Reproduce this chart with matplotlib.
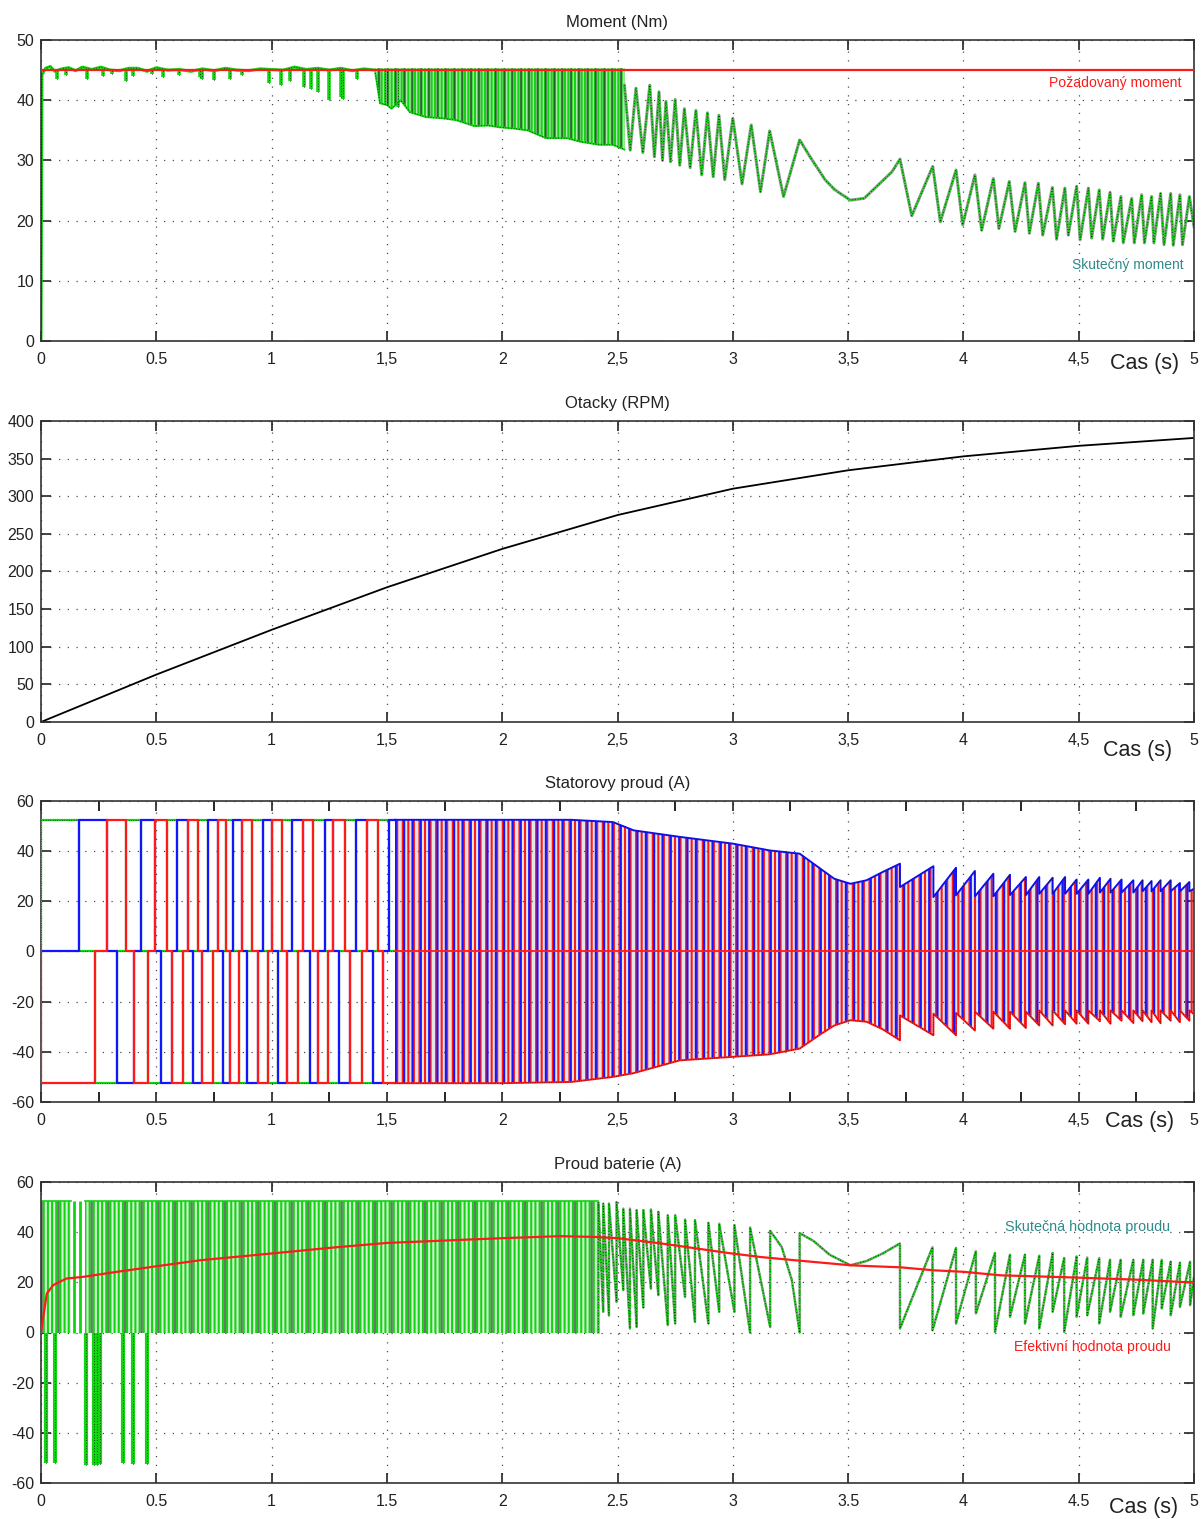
import matplotlib.pyplot as plt
import numpy as np

plt.rcParams['font.family'] = ['Liberation Sans', 'DejaVu Sans']
plt.rcParams['axes.unicode_minus'] = False
plt.rcParams['hatch.linewidth'] = 1.5

# ---------------- Moment (Nm) ----------------
moment_ref_t = [0.0, 5.0]
moment_ref = [45.0, 45.0]

# klidna cast 0 - 1.45 s
moment_klid_t = [0.0, 0.004, 0.02, 0.04, 0.06, 0.09, 0.12, 0.15, 0.18, 0.22, 0.26, 0.3,
                 0.34, 0.38, 0.42, 0.46, 0.5, 0.55, 0.6, 0.65, 0.7, 0.75, 0.8, 0.85, 0.9,
                 0.95, 1.0, 1.05, 1.1, 1.15, 1.2, 1.25, 1.3, 1.35, 1.4, 1.45]
moment_klid = [0.0, 44.2, 45.3, 45.6, 44.8, 45.2, 45.4, 44.9, 45.5, 45.1, 45.5, 45.0,
               44.9, 45.3, 45.3, 44.8, 45.4, 45.0, 45.1, 44.8, 45.2, 44.9, 45.3, 45.0, 44.9,
               45.2, 45.1, 45.0, 45.5, 45.1, 45.3, 45.0, 45.3, 44.9, 45.2, 45.0]
# propady
moment_propad_t = [0.068, 0.11, 0.2, 0.27, 0.31, 0.37, 0.4, 0.48, 0.53, 0.6, 0.69, 0.70,
                   0.75, 0.82, 0.87, 0.99, 1.04, 1.08, 1.14, 1.17, 1.2, 1.25, 1.30, 1.31,
                   1.37, 1.49, 1.5, 1.55]
moment_propad = [43.6, 44.2, 43.6, 44.0, 44.3, 43.2, 44.0, 44.3, 43.8, 44.2, 43.8, 43.5,
                 43.4, 43.6, 44.2, 42.9, 42.6, 43.2, 42.2, 41.8, 41.3, 40.1, 40.6, 40.2,
                 43.6, 39.4, 39.2, 38.8]
# husta oscilace 1.45 - 2.53 s (obalka)
moment_pas_t = [1.45, 1.47, 1.5, 1.52, 1.56, 1.6, 1.67, 1.74, 1.80, 1.88, 1.94, 1.99,
                2.05, 2.11, 2.19, 2.28, 2.34, 2.42, 2.48, 2.53]
moment_pas_min = [44.5, 39.5, 39.2, 38.6, 40.0, 38.0, 37.2, 37.0, 36.7, 35.7, 35.8, 35.5,
                  35.3, 35.0, 33.7, 33.7, 33.1, 32.6, 32.6, 31.8]
moment_pas_max = 45.3
# vrcholy a minima 2.53 - 5 s
moment_max_t = [2.53, 2.58, 2.64, 2.68, 2.71, 2.75, 2.79, 2.84, 2.89, 2.94, 3.0, 3.08,
                3.16, 3.29, 3.725, 3.867, 3.968, 4.05, 4.13, 4.199, 4.267, 4.325, 4.386,
                4.44, 4.491, 4.542, 4.589, 4.636, 4.683, 4.73, 4.773, 4.816, 4.855, 4.899,
                4.939, 4.98]
moment_max = [42.5, 42.0, 42.5, 41.4, 39.8, 40.1, 38.6, 38.3, 37.9, 37.5, 37.0, 35.9,
              34.9, 33.4, 30.2, 29.0, 28.4, 27.6, 27.0, 26.5, 26.3, 26.2, 25.5,
              25.4, 25.7, 25.4, 25.1, 24.7, 24.0, 23.7, 24.3, 24.0, 24.5, 24.5,
              24.3, 24.0]
moment_min_t = [2.555, 2.61, 2.66, 2.695, 2.73, 2.77, 2.815, 2.865, 2.915, 2.965, 3.04,
                3.12, 3.22, 3.335, 3.4, 3.44, 3.47, 3.51, 3.57, 3.63, 3.69, 3.776, 3.90,
                3.997, 4.079, 4.154, 4.224, 4.286, 4.344, 4.404, 4.455, 4.506, 4.556,
                4.604, 4.65, 4.693, 4.741, 4.785, 4.826, 4.87, 4.91, 4.95, 5.0]
moment_min = [31.7, 31.3, 30.6, 30.0, 29.8, 29.2, 28.8, 27.6, 27.3, 26.8, 26.1,
              24.8, 24.0, 30.6, 26.8, 25.2, 24.4, 23.4, 23.7, 25.9, 28.1, 20.8, 19.8,
              19.3, 18.4, 18.7, 18.2, 17.9, 17.6, 16.9, 17.6, 16.8, 17.1,
              16.9, 16.6, 16.3, 16.3, 16.3, 16.3, 16.0, 15.9, 16.0, 19.0]

# ---------------- Otacky (RPM) ----------------
otacky_t = [0, 0.5, 1.0, 1.5, 2.0, 2.5, 3.0, 3.5, 4.0, 4.5, 5.0]
otacky = [0, 63, 122.5, 179, 230, 275, 310, 334.5, 353, 367, 377.5]

# ---------------- Statorovy proud (A) ----------------
stator_amp = 52.5
# poradi stavu komutace (zelena, cervena, modra)
faze_zelena = [1, 0, -1, -1, 0, 1]
faze_cervena = [-1, -1, 0, 1, 1, 0]
faze_modra = [0, 1, 1, 0, -1, -1]
stator_prepnuti_t = [0.165, 0.234, 0.285, 0.331, 0.369, 0.403, 0.432, 0.463, 0.496, 0.519,
                     0.545, 0.569, 0.588, 0.614, 0.639, 0.658, 0.682, 0.700, 0.725, 0.747,
                     0.769, 0.788, 0.804, 0.819, 0.834, 0.860, 0.873, 0.892, 0.917, 0.943,
                     0.964, 0.986, 1.000, 1.029, 1.043, 1.065, 1.087, 1.113, 1.138, 1.166,
                     1.181, 1.203, 1.231, 1.246, 1.267, 1.293, 1.318, 1.340, 1.366, 1.390,
                     1.412, 1.438, 1.463, 1.485, 1.511]
# husta cast - obalka (cas, hodnota pred skokem, po skoku)
stator_pas_t = [1.535, 2.0, 2.3, 2.48, 2.57, 2.77, 3.0, 3.16, 3.29, 3.38, 3.44, 3.51, 3.58,
                3.65, 3.725, 3.87, 3.968, 4.05, 4.13, 4.202, 4.271, 4.329, 4.387, 4.441,
                4.491, 4.542, 4.592, 4.638, 4.686, 4.737, 4.777, 4.816, 4.855, 4.899,
                4.939, 4.98, 5.0]
stator_hor_pred = [52.5, 52.5, 52.5, 51.6, 48.3, 45.7, 43.0, 40.3, 39.0, 33.0, 29.0, 27.0,
                   28.4, 31.7, 35.0, 34.0, 33.4, 32.1, 31.0, 30.6, 29.7, 29.7, 29.4, 29.7,
                   28.7, 28.7, 29.4, 29.0, 28.7, 28.4, 28.4, 28.1, 28.4, 28.4, 27.3, 27.7, 25.0]
stator_hor_po = [52.5, 52.5, 52.5, 51.6, 48.3, 45.7, 43.0, 40.3, 39.0, 33.0, 29.0, 27.0,
                 28.4, 31.7, 25.7, 21.7, 22.4, 22.0, 22.0, 22.5, 22.5, 23.0, 23.0, 23.0,
                 23.0, 23.0, 23.5, 23.5, 23.5, 23.5, 24.0, 24.0, 24.0, 24.0, 24.0, 24.0, 25.0]
stator_dol_pred = [-52.5, -52.5, -52.0, -50.0, -48.5, -43.4, -42.0, -41.0, -38.7, -33.0,
                   -29.5, -27.4, -28.0, -31.0, -35.4, -33.4, -33.4, -31.5, -30.8, -30.8,
                   -30.5, -29.5, -29.5, -29.0, -28.8, -28.8, -27.8, -28.8, -27.6, -28.5,
                   -27.8, -28.2, -28.6, -27.6, -28.2, -27.6, -25.0]
stator_dol_po = [-52.5, -52.5, -52.0, -50.0, -48.5, -43.4, -42.0, -41.0, -38.7, -33.0,
                 -29.5, -27.4, -28.0, -31.0, -25.5, -24.8, -24.5, -24.0, -24.0, -24.0,
                 -24.0, -23.5, -23.5, -23.5, -23.5, -23.5, -23.5, -23.5, -23.5, -23.5,
                 -23.5, -23.5, -23.5, -23.5, -23.5, -23.5, -25.0]

# ---------------- Proud baterie (A) ----------------
bat_ef_t = [0, 0.025, 0.053, 0.11, 0.184, 0.33, 0.5, 0.69, 1.0, 1.27, 1.5, 2.0, 2.25, 2.4,
            2.5, 2.69, 2.98, 3.12, 3.27, 3.51, 3.61, 3.725, 3.87, 4.0, 4.16, 4.49, 4.74, 5.0]
bat_ef = [0, 15.5, 18.9, 21.5, 22.2, 24.2, 26.4, 28.8, 31.5, 33.9, 35.7, 37.6, 38.4, 38.1,
          37.6, 35.5, 31.7, 30.1, 28.8, 26.8, 26.4, 26.0, 24.8, 24.2, 22.8, 21.9, 21.1, 19.9]
# husta cast (useky od-do)
bat_pas_od = [0.0, 0.19]
bat_pas_do = [0.13, 2.417]
bat_pas_max = 52.5
bat_ridke_t = [0.145, 0.17]
bat_zap_t = [0.02, 0.06, 0.195, 0.23, 0.241, 0.256, 0.357, 0.398, 0.458]
bat_zap = [-52, -52, -53, -53, -53, -52.5, -52, -52.5, -52.5]
bat_skok_t = [2.417, 2.438, 2.463, 2.496, 2.525, 2.554, 2.583, 2.612, 2.645, 2.677, 2.718,
              2.75, 2.793, 2.836, 2.894, 2.941, 3.007, 3.075, 3.162, 3.212, 3.256, 3.29,
              3.35, 3.42, 3.51, 3.58, 3.65, 3.725, 3.866, 3.968, 4.054, 4.137, 4.202,
              4.267, 4.329, 4.387, 4.437, 4.491, 4.537, 4.589, 4.636, 4.682, 4.737, 4.78,
              4.821, 4.86, 4.899, 4.939, 4.983, 5.0]
bat_pred = [0, 8.2, 6.8, 12.2, 16.9, 1.6, 2.2, 10, 17.5, 14.9, 2.9, 3.6, 14.2, 4.2, 3.6,
            8.2, 8.2, 0, 2.2, 34.1, 20.9, 0, 36.5, 31, 26.8, 28.5, 31.5, 35.5, 34.0, 33.7,
            32.4, 31.7, 31.0, 31.0, 30.6, 31.7, 29.7, 30.3, 29.9, 29.7, 29.0, 29.0, 29.0,
            29.0, 29.0, 29.0, 28.2, 27.8, 28.2, 22]
bat_po = [52, 51.4, 51.4, 52, 49.4, 49.4, 48.8, 48.8, 49, 48.1, 46.8, 46.8, 45, 44.8, 43.7,
          43.4, 42.8, 41.8, 40.5, 34.1, 20.9, 39.6, 36.5, 31, 26.8, 28.5, 31.5, 1.6, 0.9,
          3.6, 7.6, 0.2, 6.3, 3.6, 1.6, 8.3, 0.2, 6.3, 6.9, 3.6, 8.3, 6.3, 6.9, 7.6, 1.6,
          9.6, 6.9, 10.2, 10.9, 22]

cas_ticks = [0, 0.5, 1, 1.5, 2, 2.5, 3, 3.5, 4, 4.5, 5]
cas_popisky = ['0', '0.5', '1', '1,5', '2', '2,5', '3', '3,5', '4', '4,5', '5']
cas_popisky_4 = ['0', '0.5', '1', '1.5', '2', '2.5', '3', '3.5', '4', '4.5', '5']

zelena = '#12d412'
cervena = '#ff1a1a'
modra = '#1414ff'
seda = '#9a9a9a'
tyrkys = '#2f8a8a'

W, H = 1202, 1519
fig = plt.figure(figsize=(W / 100, H / 100), dpi=100)


def box(top, bottom):
    return [41 / W, 1 - bottom / H, 1153 / W, (bottom - top) / H]


def styl(ax, yticks, popisky, titulek):
    ax.set_xlim(0, 5)
    ax.set_ylim(yticks[0], yticks[-1])
    ax.set_xticks(cas_ticks)
    ax.set_xticklabels(popisky)
    ax.set_yticks(yticks)
    ax.grid(True, which='major', linestyle=(0, (1, 6)), color='0.3', lw=0.9)
    ax.tick_params(direction='in', length=7, width=1.2, top=True, right=True,
                   labelsize=11.5, colors='#222222')
    ax.tick_params(axis='x', pad=8)
    ax.tick_params(axis='y', pad=5)
    for s in ax.spines.values():
        s.set_color('#333333')
        s.set_linewidth(1.2)
    ax.set_title(titulek, fontsize=12, pad=9, color='#222222')


def tecky(ax, x, y, lw=0.7):
    ax.plot(x, y, color='black', lw=lw, linestyle=(0, (0.6, 2.2)), zorder=3)


def skoky(t, pred, po):
    return np.repeat(t, 2), np.column_stack([pred, po]).ravel()


ax1 = fig.add_axes(box(40, 341))
ax2 = fig.add_axes(box(421, 722))
ax3 = fig.add_axes(box(801, 1102))
ax4 = fig.add_axes(box(1182, 1483))

# ---- 1: moment
styl(ax1, [0, 10, 20, 30, 40, 50], cas_popisky, 'Moment (Nm)')
ax1.plot(moment_klid_t, moment_klid, color=zelena, lw=2.2, zorder=2)
tecky(ax1, moment_klid_t, moment_klid)
ax1.vlines(moment_propad_t, moment_propad, 45, colors=zelena, lw=2.6, zorder=2)
ax1.vlines(moment_propad_t, moment_propad, 45, colors='black', lw=0.7,
           linestyles=(0, (0.6, 2.2)), zorder=3)
ax1.fill_between(moment_pas_t, moment_pas_min, moment_pas_max, facecolor='#b8e8b8',
                 edgecolor=zelena, hatch='|||||', lw=0, zorder=2)
ax1.fill_between(moment_pas_t, moment_pas_min, moment_pas_max, facecolor='none',
                 edgecolor='#222222', hatch='||', lw=0, zorder=2, alpha=0.6)
ax1.plot(moment_pas_t, moment_pas_min, color=zelena, lw=1.4, zorder=2)
tecky(ax1, moment_pas_t, moment_pas_min)
osc_t = np.array(moment_max_t + moment_min_t)
osc = np.array(moment_max + moment_min)
poradi = np.argsort(osc_t)
ax1.plot(osc_t[poradi], osc[poradi], color=seda, lw=2.2, zorder=2)
ax1.plot(osc_t[poradi], osc[poradi], color=zelena, lw=1.4, zorder=2,
         linestyle=(0, (3, 1)))
tecky(ax1, osc_t[poradi], osc[poradi])
ax1.plot(moment_ref_t, moment_ref, color=cervena, lw=1.6, zorder=5)

# ---- 2: otacky
styl(ax2, [0, 50, 100, 150, 200, 250, 300, 350, 400], cas_popisky, 'Otacky (RPM)')
ax2.plot(otacky_t, otacky, color='black', lw=1.3)

# ---- 3: statorovy proud
styl(ax3, [-60, -40, -20, 0, 20, 40, 60], cas_popisky, 'Statorovy proud (A)')
ax3.set_xticks([0.25, 0.75, 1.25, 1.75, 2.25, 2.75, 3.25, 3.75, 4.25, 4.75], minor=True)
ax3.tick_params(which='minor', direction='in', length=7, width=1.2, top=True)
hrany = np.concatenate([[0.0], stator_prepnuti_t, [stator_pas_t[0]]])
n_int = len(hrany) - 1
for faze, barva in [(faze_zelena, zelena), (faze_modra, modra), (faze_cervena, cervena)]:
    urovne = np.array([faze[k % 6] for k in range(n_int)]) * stator_amp
    x = np.concatenate([[0.0], np.repeat(hrany, 2)[1:-1]])
    y = np.concatenate([[0.0], np.repeat(urovne, 2)])
    ax3.plot(x, y, color=barva, lw=1.6, zorder=3)
    if barva == zelena:
        tecky(ax3, x, y, lw=0.6)

hx, hy = skoky(stator_pas_t, stator_hor_pred, stator_hor_po)
dx, dy = skoky(stator_pas_t, stator_dol_pred, stator_dol_po)
for yy in (hy, dy):
    ax3.fill_between(hx, 0, yy, facecolor='#e4e4e4', lw=0, zorder=1)
    ax3.fill_between(hx, 0, yy, facecolor='none', edgecolor=cervena, hatch='|||',
                     lw=0, zorder=2)
    ax3.fill_between(hx, 0, yy, facecolor='none', edgecolor=modra, hatch='||',
                     lw=0, zorder=2)
ax3.plot(hx, hy, color=modra, lw=1.4, zorder=3)
ax3.plot(dx, dy, color=cervena, lw=1.4, zorder=3)
tecky(ax3, hx, hy, lw=0.6)
tecky(ax3, dx, dy, lw=0.6)
ax3.plot([stator_pas_t[0], 5], [0, 0], color=cervena, lw=1.3, zorder=3)

# ---- 4: proud baterie
styl(ax4, [-60, -40, -20, 0, 20, 40, 60], cas_popisky_4, 'Proud baterie (A)')
for od, do in zip(bat_pas_od, bat_pas_do):
    ax4.fill_between([od, do], 0, bat_pas_max, facecolor='#d6f2d6', edgecolor=zelena,
                     hatch='||||', lw=0, zorder=2)
    ax4.fill_between([od, do], 0, bat_pas_max, facecolor='none', edgecolor='#222222',
                     hatch='|', lw=0, zorder=2, alpha=0.6)
    ax4.plot([od, do], [bat_pas_max, bat_pas_max], color=zelena, lw=1.2, zorder=2)
ax4.vlines(bat_ridke_t, 0, bat_pas_max, colors=zelena, lw=2.0, zorder=2)
ax4.vlines(bat_zap_t, bat_zap, 0, colors=zelena, lw=3.0, zorder=2)
ax4.vlines(bat_zap_t, bat_zap, 0, colors='black', lw=0.7,
           linestyles=(0, (0.6, 2.2)), zorder=3)
bx, by = skoky(bat_skok_t, bat_pred, bat_po)
ax4.plot(bx, by, color=seda, lw=1.8, zorder=2)
ax4.plot(bx, by, color=zelena, lw=1.4, zorder=2, linestyle=(0, (3, 1)))
tecky(ax4, bx, by)
ax4.plot(bat_ef_t, bat_ef, color=cervena, lw=1.6, zorder=5)


# ---- popisky
def px_text(x, y, s, **kw):
    fig.text(x / W, 1 - y / H, s, ha='center', va='center', **kw)


for yy, xx in [(363, 1145), (750, 1138), (1121, 1140), (1508, 1144)]:
    px_text(xx, yy, 'Cas (s)', fontsize=15.5, color='#222222')
px_text(1115, 83, 'Požadovaný moment', fontsize=10.1, color=cervena)
px_text(1128, 265, 'Skutečný moment', fontsize=10, color=tyrkys)
px_text(1088, 1227, 'Skutečná hodnota proudu', fontsize=10.4, color=tyrkys)
px_text(1092, 1347, 'Efektivní hodnota proudu', fontsize=10.1, color=cervena)

fig.savefig('out.png', dpi=100)
